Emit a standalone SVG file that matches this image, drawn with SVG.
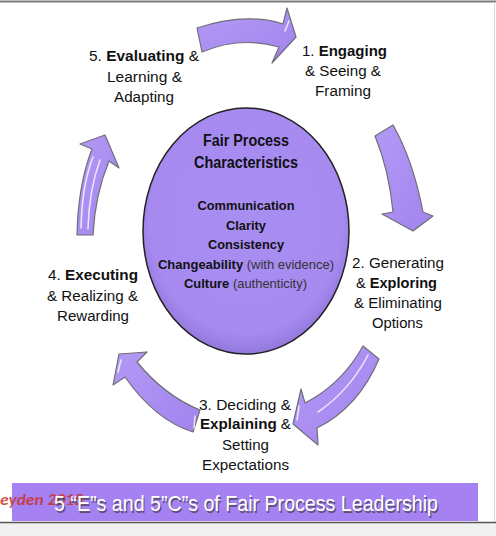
<svg xmlns="http://www.w3.org/2000/svg" width="496" height="536" viewBox="0 0 496 536">
  <defs>
    <radialGradient id="circFill" cx="0.5" cy="0.45" r="0.55">
      <stop offset="0" stop-color="#a98ef2"/>
      <stop offset="0.85" stop-color="#a68af0"/>
      <stop offset="1" stop-color="#9378dc"/>
    </radialGradient>
    <linearGradient id="arrFill" x1="0" y1="0" x2="1" y2="1">
      <stop offset="0" stop-color="#b39af5"/>
      <stop offset="1" stop-color="#a283ee"/>
    </linearGradient>
  </defs>
  <style>
    .lbl { font-family: "Liberation Sans", Arial, sans-serif; font-size: 15.5px; fill: #111; text-anchor: middle; }
    .b { font-weight: bold; }
    .ctitle { font-family: "Liberation Sans", Arial, sans-serif; font-size: 16px; font-weight: bold; fill: #111; text-anchor: middle; }
    .citem { font-family: "Liberation Sans", Arial, sans-serif; font-size: 13.5px; font-weight: bold; fill: #111; text-anchor: middle; }
    .n { font-weight: normal; fill: #333; }
    .arrow { fill: url(#arrFill); stroke: #6f6f78; stroke-width: 1.2; stroke-linejoin: round; }
    .hl { fill: none; stroke: #ffffff; stroke-opacity: 0.75; stroke-width: 1.6; stroke-linecap: round; }
    .ban { font-family: "Liberation Sans", Arial, sans-serif; font-size: 22px; text-anchor: middle; }
  </style>

  <rect x="0" y="0" width="496" height="536" fill="#ffffff"/>
  <line x1="0" y1="1.5" x2="496" y2="1.5" stroke="#7a7a7a" stroke-width="2"/>
  <line x1="494.5" y1="2" x2="494.5" y2="522" stroke="#d8d8d8" stroke-width="1"/>
  <rect x="0" y="523" width="496" height="13" fill="#f1f1f1"/>
  <line x1="0" y1="522.5" x2="496" y2="522.5" stroke="#555" stroke-width="1.5"/>

  <g id="connectors">
    <g id="arrow-5-1">
      <path class="arrow" d="M197,28 Q245,12 283,24 L287,8 L296,37 L272,63 L279,47 Q240,36 202,52 Z"/>
      <path class="hl" d="M285,31 L289,21"/>
    </g>
    <g id="arrow-1-2">
      <path class="arrow" d="M375,136 L393,125 Q413,160 423,212 L433,216 L413,231 L382,214 L393,212 Q389,170 375,136 Z"/>
    </g>
    <g id="arrow-2-3">
      <path class="arrow" d="M363,346 L379,359 Q358,408 317,428 L318,445 L293,424 L301,389 L305,403 Q342,384 363,346 Z"/>
      <path class="hl" d="M368,355 Q350,390 318,412"/>
      <path class="hl" d="M299,406 L297,420"/>
    </g>
    <g id="arrow-3-4">
      <path class="arrow" d="M200,410 Q165,396 137,362 L147,352 L119,354 L113,385 L125,377 Q155,420 193,432 Z"/>
      <path class="hl" d="M121,360 L118,372"/>
      <path class="hl" d="M195,416 L194,428"/>
    </g>
    <g id="arrow-4-5">
      <path class="arrow" d="M77,235 Q78,185 92,149 L80,144 L105,135 L119,168 L109,161 Q95,195 93,235 Z"/>
      <path class="hl" d="M81,228 Q82,185 93,157"/>
      <path class="hl" d="M88,229 Q89,190 100,160"/>
    </g>
  </g>

  <g id="center">
    <ellipse cx="246" cy="231" rx="103" ry="123" fill="url(#circFill)" stroke="#222" stroke-width="1.5"/>
    <text class="ctitle" x="246" y="146" textLength="86" lengthAdjust="spacingAndGlyphs">Fair Process</text>
    <text class="ctitle" x="246" y="168" textLength="104" lengthAdjust="spacingAndGlyphs">Characteristics</text>
    <text class="citem" x="246" y="210" textLength="97" lengthAdjust="spacingAndGlyphs">Communication</text>
    <text class="citem" x="246" y="230" textLength="40" lengthAdjust="spacingAndGlyphs">Clarity</text>
    <text class="citem" x="246" y="249" textLength="76" lengthAdjust="spacingAndGlyphs">Consistency</text>
    <text class="citem" x="246" y="269" textLength="176" lengthAdjust="spacingAndGlyphs">Changeability <tspan class="n">(with evidence)</tspan></text>
    <text class="citem" x="245.5" y="288" textLength="123" lengthAdjust="spacingAndGlyphs">Culture <tspan class="n">(authenticity)</tspan></text>
  </g>

  <g id="step1">
    <text class="lbl" x="344.5" y="56" textLength="85" lengthAdjust="spacingAndGlyphs">1. <tspan class="b">Engaging</tspan></text>
    <text class="lbl" x="343" y="76" textLength="76" lengthAdjust="spacingAndGlyphs">&amp; Seeing &amp;</text>
    <text class="lbl" x="343" y="96" textLength="56" lengthAdjust="spacingAndGlyphs">Framing</text>
  </g>
  <g id="step2">
    <text class="lbl" x="398" y="268" textLength="92" lengthAdjust="spacingAndGlyphs">2. Generating</text>
    <text class="lbl" x="396.5" y="288" textLength="81" lengthAdjust="spacingAndGlyphs">&amp; <tspan class="b">Exploring</tspan></text>
    <text class="lbl" x="398" y="308" textLength="88" lengthAdjust="spacingAndGlyphs">&amp; Eliminating</text>
    <text class="lbl" x="397.5" y="328" textLength="51" lengthAdjust="spacingAndGlyphs">Options</text>
  </g>
  <g id="step3">
    <text class="lbl" x="245" y="410" textLength="92" lengthAdjust="spacingAndGlyphs">3. Deciding &amp;</text>
    <text class="lbl" x="245.5" y="429" textLength="91" lengthAdjust="spacingAndGlyphs"><tspan class="b">Explaining</tspan> &amp;</text>
    <text class="lbl" x="245.5" y="450" textLength="47" lengthAdjust="spacingAndGlyphs">Setting</text>
    <text class="lbl" x="245.5" y="470" textLength="87" lengthAdjust="spacingAndGlyphs">Expectations</text>
  </g>
  <g id="step4">
    <text class="lbl" x="93" y="280" textLength="90" lengthAdjust="spacingAndGlyphs">4. <tspan class="b">Executing</tspan></text>
    <text class="lbl" x="92.5" y="301" textLength="91" lengthAdjust="spacingAndGlyphs">&amp; Realizing &amp;</text>
    <text class="lbl" x="93" y="321" textLength="72" lengthAdjust="spacingAndGlyphs">Rewarding</text>
  </g>
  <g id="step5">
    <text class="lbl" x="144" y="61" textLength="110" lengthAdjust="spacingAndGlyphs">5. <tspan class="b">Evaluating</tspan> &amp;</text>
    <text class="lbl" x="144.5" y="82" textLength="75" lengthAdjust="spacingAndGlyphs">Learning &amp;</text>
    <text class="lbl" x="144" y="102" textLength="60" lengthAdjust="spacingAndGlyphs">Adapting</text>
  </g>

  <g id="banner">
    <rect x="12" y="483" width="466" height="38" fill="#a581f2"/>
    <text x="0" y="505" font-family="Calibri, Carlito, 'Liberation Sans', sans-serif" font-size="15.5" font-style="italic" font-weight="bold" fill="#c8352c" fill-opacity="0.85" textLength="83" lengthAdjust="spacingAndGlyphs">eyden 2015</text>
    <text class="ban" x="246" y="511" fill="#3a3a3a" fill-opacity="0.7" transform="translate(1.2,1.5)" textLength="384" lengthAdjust="spacingAndGlyphs">5 “E”s and 5”C”s of Fair Process Leadership</text>
    <text class="ban" x="246" y="511" fill="#ffffff" textLength="384" lengthAdjust="spacingAndGlyphs">5 “E”s and 5”C”s of Fair Process Leadership</text>
  </g>
</svg>
